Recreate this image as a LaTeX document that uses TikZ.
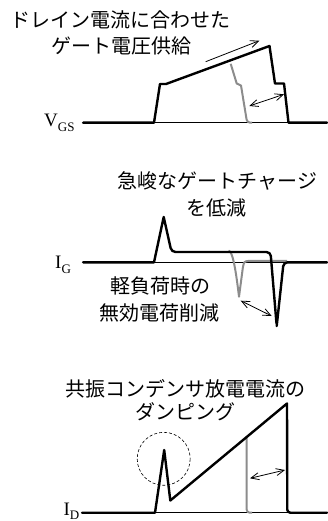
\documentclass[tikz,border=0pt]{standalone}
\usepackage{fontspec}
\setmainfont{Liberation Serif}
\newfontfamily\jpfont{Noto Sans CJK JP}
\usetikzlibrary{arrows.meta}
\begin{document}
\begin{tikzpicture}[x=1pt,y=-1pt,
  wave/.style={line width=2.4pt, line join=round, line cap=round},
  graywave/.style={line width=2pt, draw=black!45, line join=round},
  axisline/.style={line width=0.8pt},
  onearrow/.style={line width=0.8pt, -{Straight Barb[length=8pt,width=7pt]}},
  dblarrow/.style={line width=0.8pt, {Straight Barb[length=8pt,width=7pt]}-{Straight Barb[length=8pt,width=7pt]}},
  jtext/.style={font=\jpfont\fontsize{20}{24}\selectfont, inner sep=0pt, text height=0.88em, text depth=0.12em},
  sig/.style={font=\fontsize{19}{19}\selectfont, inner sep=0pt, anchor=base west}]
\useasboundingbox (0,0) rectangle (327,521);

% ---------- V_GS panel ----------
\node[sig] (vgs) at (44,126.7) {V\raisebox{-5pt}{\fontsize{13}{13}\selectfont GS}};
\node[jtext] (vt1) at (120,23.3) {ドレイン電流に合わせた};
\node[jtext] (vt2) at (121,50) {ゲート電圧供給};
\draw[axisline] (83,122.7) -- (327,122.7);
\draw[graywave] (230.7,63.8) -- (236.7,83.5) -- (241,85.5) -- (246.5,119) [rounded corners=3pt] -- (247.2,122.7) -- (252,122.7);
\draw[wave] (83,122.7) -- (154,122.7) -- (160,84) -- (166,84) -- (269.5,46) -- (275,83.5) -- (284,83.5) -- (288.5,122.7) -- (327,122.7);
\coordinate (va1) at (205.7,61.7);
\coordinate (va2) at (259.3,40.7);
\draw[onearrow] (va1) -- (va2);
\coordinate (vb1) at (249.3,106);
\coordinate (vb2) at (284,94.3);
\draw[dblarrow] (vb1) -- (vb2);

% ---------- I_G panel ----------
\node[sig] (ig) at (55,268) {I\raisebox{-5pt}{\fontsize{13}{13}\selectfont G}};
\node[jtext] (gt1) at (217.5,185) {急峻なゲートチャージ};
\node[jtext] (gt2) at (216,211.7) {を低減};
\node[jtext] (gt3) at (160,290) {軽負荷時の};
\node[jtext] (gt4) at (159.7,316.7) {無効電荷削減};
\draw[axisline] (83,262.3) -- (327,262.3);
\draw[graywave] (228.5,250.7) .. controls (232,251) and (235,263) .. (239,296.7) -- (242.8,268) .. controls (244,261.5) .. (249,260.8) -- (287,260.8);
\draw[wave] (83,262.3) -- (154,262.3) -- (163.7,217) [rounded corners=4pt] -- (171.5,252) -- (270.5,252) -- (276.7,326) [sharp corners] -- (276.7,326) [rounded corners=4pt] -- (283.6,262.3) -- (327,262.3);
\coordinate (ga1) at (240.7,300.7);
\coordinate (ga2) at (271.7,316);
\draw[dblarrow] (ga1) -- (ga2);

% ---------- I_D panel ----------
\node[sig] (id) at (63.3,515.5) {I\raisebox{-3.5pt}{\fontsize{13}{13}\selectfont D}};
\node[jtext] (dt1) at (185,392.5) {共振コンデンサ放電電流の};
\node[jtext] (dt2) at (185,416) {ダンピング};
\draw[axisline] (82,512.7) -- (327,512.7);
\draw[graywave, rounded corners=3pt] (246.7,437) -- (246.7,512.7) -- (252,512.7);
\draw[wave] (82,512.7) -- (155,512.7) -- (164.2,450) -- (170.3,500.5) -- (287,403.5) [rounded corners=3pt] -- (287.3,512.7) -- (327,512.7);
\draw[line width=0.6pt, dashed, dash pattern=on 3pt off 2pt] (163.7,458.8) circle (26.5);
\coordinate (da1) at (250,478.3);
\coordinate (da2) at (285,470);
\draw[dblarrow] (da1) -- (da2);
\end{tikzpicture}
\end{document}
